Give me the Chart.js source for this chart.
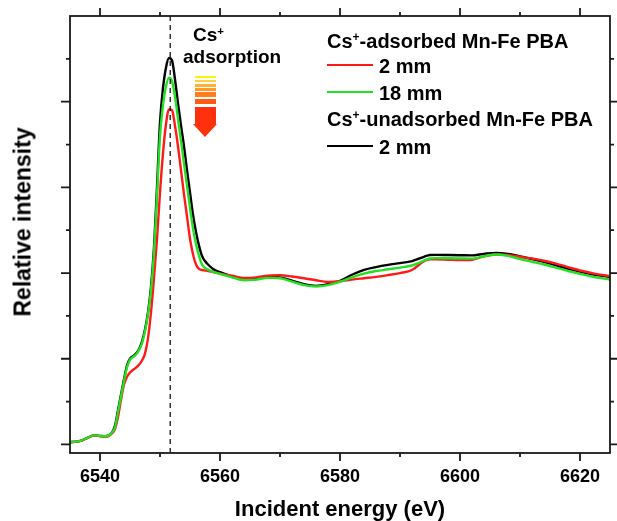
<!DOCTYPE html>
<html>
<head>
<meta charset="utf-8">
<script src="https://cdn.jsdelivr.net/npm/chart.js@4.4.1/dist/chart.umd.min.js"></script>
<style>
  html, body { margin: 0; padding: 0; background: #fff; }
  #wrap { position: relative; width: 617px; height: 521px; font-family: "Liberation Sans", Arial, sans-serif; font-weight: bold; color: #000; }
  #chart { position: absolute; left: 0; top: 0; }
  .txt { position: absolute; white-space: nowrap; line-height: 1; }
  .txt sup { font-size: 0.6em; vertical-align: 0; position: relative; top: -0.55em; }
  .seg { position: absolute; height: 2px; width: 46px; }
  .stripe { position: absolute; left: 195px; width: 21px; }
  #ytitle { position: absolute; left: 23px; top: 222px; font-size: 23px; white-space: nowrap; line-height: 1;
            transform: translate(-50%, -50%) rotate(-90deg); }
</style>
</head>
<body>
<div id="wrap">
  <canvas id="chart" width="617" height="521"></canvas>
  <div id="ytitle">Relative intensity</div>

  <div class="txt" style="left:193px; top:25px; font-size:19px;">Cs<sup>+</sup></div>
  <div class="txt" style="left:183px; top:47px; font-size:19px;">adsorption</div>

  <div class="stripe" style="top:76px; height:2px; background:#fff200;"></div>
  <div class="stripe" style="top:80px; height:2px; background:#ffd23a;"></div>
  <div class="stripe" style="top:83.5px; height:3px; background:#ffb032;"></div>
  <div class="stripe" style="top:88px; height:3px; background:#ff9a28;"></div>
  <div class="stripe" style="top:92px; height:5px; background:#ff7d1e;"></div>
  <div class="stripe" style="top:99px; height:5px; background:#ff5a14;"></div>
  <div class="stripe" style="top:106.5px; height:18px; background:#ff300c;"></div>
  <div style="position:absolute; left:193px; top:124px; width:0; height:0; border-left:12.5px solid transparent; border-right:12.5px solid transparent; border-top:13px solid #ff300c;"></div>

  <div class="txt" style="left:327px; top:31px; font-size:20px;">Cs<sup>+</sup>-adsorbed Mn-Fe PBA</div>
  <div class="seg" style="left:327px; top:64px; background:#ff1a1a;"></div>
  <div class="txt" style="left:379px; top:56px; font-size:20px;">2 mm</div>
  <div class="seg" style="left:327px; top:91px; background:#22e022;"></div>
  <div class="txt" style="left:379px; top:82.5px; font-size:20px;">18 mm</div>
  <div class="txt" style="left:327px; top:109px; font-size:20px;">Cs<sup>+</sup>-unadsorbed Mn-Fe PBA</div>
  <div class="seg" style="left:327px; top:145px; background:#000;"></div>
  <div class="txt" style="left:379px; top:137px; font-size:20px;">2 mm</div>
</div>

<script>
// Mn K-edge XANES
var energy = [6535, 6536, 6537, 6538, 6539, 6540, 6541, 6542, 6542.5, 6543, 6543.5, 6544, 6544.5, 6545, 6545.5, 6546, 6546.5, 6547, 6547.5, 6548, 6548.5, 6549, 6549.5, 6550, 6550.5, 6551, 6551.5, 6552, 6552.5, 6553, 6553.5, 6554, 6554.5, 6555, 6555.5, 6556, 6556.5, 6557, 6557.5, 6558, 6559, 6560, 6562, 6564, 6566, 6568, 6570, 6572, 6574, 6576, 6578, 6580, 6582, 6584, 6586, 6588, 6590, 6592, 6594, 6595, 6596, 6598, 6600, 6602, 6604, 6606, 6608, 6610, 6612, 6614, 6616, 6618, 6620, 6622, 6625];

var unadsorbed2mm = [0.013, 0.016, 0.024, 0.040, 0.053, 0.050, 0.048, 0.070, 0.110, 0.200, 0.290, 0.380, 0.460, 0.500, 0.515, 0.530, 0.555, 0.600, 0.670, 0.770, 0.920, 1.150, 1.500, 1.880, 2.080, 2.200, 2.255, 2.240, 2.130, 1.990, 1.860, 1.740, 1.600, 1.470, 1.340, 1.240, 1.160, 1.100, 1.070, 1.050, 1.020, 1.005, 0.980, 0.960, 0.965, 0.977, 0.975, 0.955, 0.935, 0.925, 0.935, 0.955, 0.990, 1.018, 1.035, 1.048, 1.058, 1.070, 1.095, 1.105, 1.106, 1.105, 1.104, 1.103, 1.112, 1.118, 1.112, 1.097, 1.082, 1.065, 1.045, 1.025, 1.008, 0.993, 0.977];

var adsorbed18mm = [0.013, 0.016, 0.024, 0.040, 0.053, 0.050, 0.048, 0.070, 0.100, 0.190, 0.280, 0.370, 0.450, 0.495, 0.510, 0.525, 0.550, 0.590, 0.660, 0.760, 0.900, 1.120, 1.450, 1.800, 1.980, 2.090, 2.140, 2.120, 2.030, 1.900, 1.770, 1.640, 1.510, 1.380, 1.260, 1.170, 1.100, 1.050, 1.030, 1.020, 1.005, 0.995, 0.975, 0.958, 0.962, 0.972, 0.970, 0.950, 0.930, 0.922, 0.930, 0.948, 0.975, 0.997, 1.012, 1.022, 1.032, 1.044, 1.072, 1.085, 1.087, 1.086, 1.085, 1.084, 1.098, 1.108, 1.100, 1.082, 1.066, 1.050, 1.032, 1.012, 0.995, 0.980, 0.962];

var adsorbed2mm = [0.013, 0.016, 0.024, 0.040, 0.052, 0.048, 0.046, 0.065, 0.090, 0.160, 0.260, 0.350, 0.395, 0.420, 0.435, 0.448, 0.465, 0.490, 0.530, 0.620, 0.770, 0.970, 1.200, 1.470, 1.700, 1.870, 1.955, 1.950, 1.860, 1.740, 1.600, 1.460, 1.330, 1.200, 1.110, 1.050, 1.025, 1.018, 1.015, 1.012, 1.005, 0.997, 0.985, 0.972, 0.975, 0.985, 0.987, 0.980, 0.970, 0.958, 0.948, 0.952, 0.962, 0.970, 0.978, 0.988, 1.000, 1.018, 1.070, 1.080, 1.080, 1.078, 1.076, 1.078, 1.098, 1.108, 1.105, 1.095, 1.085, 1.072, 1.055, 1.035, 1.015, 1.000, 0.981];

var xTicks = [6540, 6560, 6580, 6600, 6620];
var yTicks = [0, 0.5, 1.0, 1.5, 2.0];
var edgeEnergy = 6551.7;
var xMin = 6535, xMax = 6625, yMin = -0.05, yMax = 2.5;

var toPoints = function(ys) {
  return energy.map(function(e, i) { return {x: e, y: ys[i]}; });
};

// frame + outward tick marks on all four sides
var frameTicks = {
  id: 'frameTicks',
  afterDatasetsDraw: function(chart) {
    var ctx = chart.ctx, a = chart.chartArea;
    var xs = chart.scales.x, ys = chart.scales.y;
    ctx.save();
    ctx.strokeStyle = '#1a1a1a';
    ctx.lineWidth = 1.8;
    ctx.strokeRect(a.left, a.top, a.right - a.left, a.bottom - a.top);
    ctx.beginPath();
    xTicks.forEach(function(t) {
      [[t, 8], [t + 10, 4]].forEach(function(m) {
        if (m[0] > xMax) return;
        var px = xs.getPixelForValue(m[0]);
        ctx.moveTo(px, a.bottom); ctx.lineTo(px, a.bottom + m[1]);
        ctx.moveTo(px, a.top); ctx.lineTo(px, a.top - m[1]);
      });
    });
    yTicks.forEach(function(t) {
      [[t, 9], [t + 0.25, 4]].forEach(function(m) {
        var py = ys.getPixelForValue(m[0]);
        ctx.moveTo(a.left, py); ctx.lineTo(a.left - m[1], py);
        ctx.moveTo(a.right, py); ctx.lineTo(a.right + m[1], py);
      });
    });
    ctx.stroke();
    ctx.restore();
  }
};

new Chart(document.getElementById('chart').getContext('2d'), {
  type: 'line',
  data: {
    datasets: [
      {
        label: 'edge',
        data: [{x: edgeEnergy, y: yMin}, {x: edgeEnergy, y: yMax}],
        borderColor: '#000', borderWidth: 1.2, borderDash: [5, 4],
        pointRadius: 0, order: 0
      },
      {
        label: 'Cs+-adsorbed 18 mm',
        data: toPoints(adsorbed18mm),
        borderColor: '#22e022', borderWidth: 2.4,
        pointRadius: 0, cubicInterpolationMode: 'monotone', order: 1
      },
      {
        label: 'Cs+-adsorbed 2 mm',
        data: toPoints(adsorbed2mm),
        borderColor: '#ff1a1a', borderWidth: 2.4,
        pointRadius: 0, cubicInterpolationMode: 'monotone', order: 2
      },
      {
        label: 'Cs+-unadsorbed 2 mm',
        data: toPoints(unadsorbed2mm),
        borderColor: '#000', borderWidth: 2.4,
        pointRadius: 0, cubicInterpolationMode: 'monotone', order: 3
      }
    ]
  },
  options: {
    responsive: false,
    animation: false,
    layout: { padding: { top: 16, right: 7, left: 0, bottom: 0 } },
    plugins: { legend: { display: false }, tooltip: { enabled: false } },
    scales: {
      x: {
        type: 'linear', min: xMin, max: xMax,
        afterBuildTicks: function(s) { s.ticks = xTicks.map(function(v) { return {value: v}; }); },
        afterFit: function(s) { s.height = 68; },
        grid: { display: false, drawTicks: false },
        border: { display: false },
        ticks: {
          padding: 13, color: '#000', maxRotation: 0,
          callback: function(v) { return String(v); },
          font: { family: '"Liberation Sans", Arial, sans-serif', size: 18, weight: 'bold' }
        },
        title: {
          display: true, text: 'Incident energy (eV)', color: '#000',
          padding: 0,
          font: { family: '"Liberation Sans", Arial, sans-serif', size: 22, weight: 'bold', lineHeight: 1 }
        }
      },
      y: {
        min: yMin, max: yMax,
        afterFit: function(s) { s.width = 70; },
        grid: { display: false, drawTicks: false },
        border: { display: false },
        ticks: { display: false }
      }
    }
  },
  plugins: [frameTicks]
});
</script>
</body>
</html>
